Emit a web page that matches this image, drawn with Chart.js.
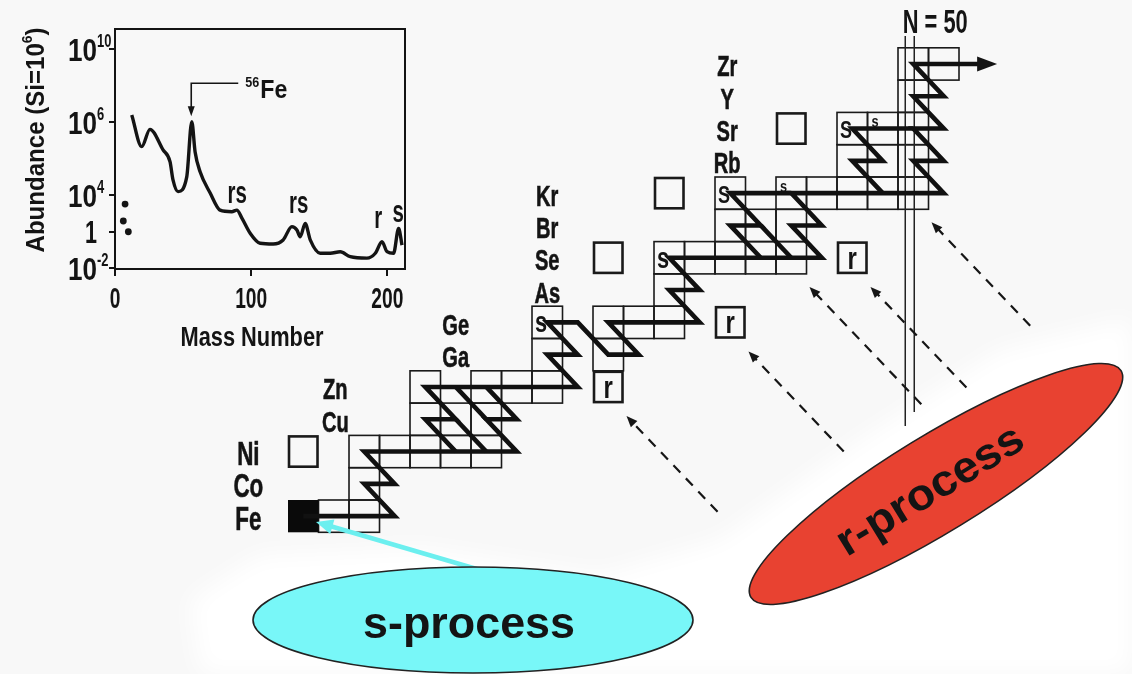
<!DOCTYPE html>
<html><head><meta charset="utf-8">
<script src="https://cdn.jsdelivr.net/npm/chart.js@4.4.1/dist/chart.umd.min.js"></script>
<style>
html,body{margin:0;padding:0;background:#f8f8f8;}
#wrap{position:relative;width:1132px;height:674px;overflow:hidden;background:#f8f8f8;}
#main{position:absolute;left:0;top:0;}
#inset{position:absolute;left:0;top:0;}
</style></head><body>
<div id="wrap"><canvas id="main" width="1132" height="674"></canvas><canvas id="inset" width="420" height="360"></canvas></div>
<script>
// ================= INSET: solar abundance curve =================
const massNumber = [12.3, 19.6, 25.7, 35.3, 40.4, 42.6, 46.3, 52.7, 56.4, 58.8, 62.5, 69.9, 77.2, 85.8, 89.5, 93.2,
  99.3, 106.6, 116.2, 123.5, 129.9, 133.6, 136, 139.7, 143.4, 150.7, 158.1, 165.4, 172.8, 185, 191.2, 196.1,
  199.8, 204.6, 208.3, 210.8];
const abundance = [2.45e6, 4.5e4, 4.0e5, 3.0e4, 6.8e3, 680, 155, 1.0e3, 1.05e6, 2.4e4, 1.9e3, 130, 15, 12.3, 15, 5.5,
  0.81, 0.23, 0.21, 0.35, 1.86, 1.23, 0.52, 2.8, 0.35, 0.065, 0.065, 0.079, 0.042, 0.035, 0.065, 0.28,
  0.079, 0.065, 1.5, 0.18];
const lightMass = [7.4, 6.1, 9.8];          // Li, Be, B dots
const lightAbund = [32, 3.8, 0.98];
const xTickValues = [0, 100, 200];
const yTickValues = [1e-2, 1, 1e2, 1e6, 1e10];
const yTickLabels = [['10','-2'], ['1',''], ['10','4'], ['10','6'], ['10','10']]; // as printed in the figure
const peakLabelText = ['rs', 'rs', 'r', 's'];
const peakLabelMass = [89.7, 134.9, 193.4, 208];
const peakLabelAbund = [36, 10.2, 1.55, 3.3];
const fePeakMass = 56, fePeakAbund = 2.1e6;

// ================= MAIN: chart of nuclides (x = N, y = Z) =================
const chainCells = [
  [31,26],[32,26],
  [32,27],
  [32,28],[33,28],[34,28],[35,28],[36,28],
  [34,29],[35,29],[36,29],
  [34,30],[36,30],[37,30],[38,30],
  [38,31],[40,31],
  [38,32],[40,32],[41,32],[42,32],
  [42,33],
  [42,34],[43,34],[44,34],[45,34],[46,34],
  [44,35],[45,35],[46,35],
  [44,36],[46,36],[47,36],[48,36],[49,36],[50,36],
  [48,37],[49,37],[50,37],
  [48,38],[49,38],[50,38],
  [50,39],
  [50,40],[51,40]
];
const seedCell = [30,26];
const pOnlyCells = [[30,28],[40,34],[42,36],[46,38]];
const rOnlyCells = [[40,30],[44,32],[48,34]];
const sOnlyCells = [[38,32,'s',1],[42,34,'s',1],[44,36,'S',1],[46,36,'s',0],[48,38,'S',1],[49,38,'s',0]];
const elementLabels = [
  ['Fe',28.2,26],['Co',28.2,27],['Ni',28.2,28],
  ['Cu',31.05,29],['Zn',31.05,30],
  ['Ga',35.0,31],['Ge',35.0,32],
  ['As',38.0,33],['Se',38.0,34],['Br',38.0,35],['Kr',38.0,36],
  ['Rb',43.9,37],['Sr',43.9,38],['Y',43.9,39],['Zr',43.9,40]
];
const sPathMain = [[30,26],[33,26],[32,27],[33,27],[32,28],[37,28],[36,29],[37,29],[36,30]];
const sPathLong = [[35,28],[34,29],[35,29],[34,30],[39,30],[38,31],[39,31],[38,32],[39,32],[40,31],[41,31],[40,32],
  [43,32],[42,33],[43,33],[42,34],[47,34],[46,35],[47,35],[46,36],[51,36],[50,37],[51,37],[50,38],[51,38],[50,39],
  [51,39],[50,40],[52.2,40]];
const branchCu64 = [[35,29],[36,28]];
const branchZn65 = [[35,30],[36,29]];
const branchSe79 = [[45,34],[44,35],[45,35],[44,36],[46,36]];
const branchBr80 = [[45,35],[46,34]];
const branchKr85 = [[49,36],[48,37],[49,37],[48,38],[50,38]];
const pathArrowTip = [52.75, 40];
const magicN = 50;
const rArrowTargets = [[40,30],[44,32],[46,34],[48,34],[50,36]];
const rArrowLengths = [132, 138, 162, 139, 143];

// view of the nuclide chart (data units covering the page)
const X_MIN = 20.057, X_MAX = 57.172, Y_MIN = 21.113, Y_MAX = 41.98;

const FONT = '"Liberation Sans", Arial, "DejaVu Sans", sans-serif';
function drawText(ctx, str, x, y, size, o = {}) {
  ctx.save();
  ctx.font = `${o.weight || 'bold'} ${size}px ${FONT}`;
  ctx.fillStyle = o.color || '#141414';
  ctx.textAlign = o.align || 'center';
  ctx.textBaseline = o.baseline || 'alphabetic';
  ctx.translate(x, y);
  if (o.rotate) ctx.rotate(o.rotate);
  const w = ctx.measureText(str).width;
  const sx = o.width ? o.width / w : (o.sx || 1);
  ctx.scale(sx, 1);
  ctx.fillText(str, 0, 0);
  if (o.heavy) { ctx.lineWidth = o.heavy; ctx.strokeStyle = ctx.fillStyle; ctx.strokeText(str, 0, 0); }
  ctx.restore();
  return w * sx;
}
function arrowHead(ctx, tx, ty, fx, fy, len, half, color) {
  const a = Math.atan2(ty - fy, tx - fx);
  ctx.save();
  ctx.fillStyle = color;
  ctx.beginPath();
  ctx.moveTo(tx, ty);
  ctx.lineTo(tx - len * Math.cos(a) + half * Math.sin(a), ty - len * Math.sin(a) - half * Math.cos(a));
  ctx.lineTo(tx - len * Math.cos(a) - half * Math.sin(a), ty - len * Math.sin(a) + half * Math.cos(a));
  ctx.closePath();
  ctx.fill();
  ctx.restore();
}

// ---------- inset decorations ----------
const insetDecor = {
  id: 'insetDecor',
  afterDraw(chart) {
    const ctx = chart.ctx, xs = chart.scales.x, ys = chart.scales.y, ca = chart.chartArea;
    ctx.save();
    ctx.strokeStyle = '#141414'; ctx.lineWidth = 2;
    ctx.strokeRect(ca.left, ca.top, ca.right - ca.left, ca.bottom - ca.top);
    ctx.restore();
    yTickValues.forEach((v, i) => {
      const y = ys.getPixelForValue(v);
      const [base, exp] = yTickLabels[i];
      const rx = ca.left - 18;
      drawText(ctx, base, rx, y + 11.5, 32, { align: 'right', width: base.length === 2 ? 29 : 12 });
      if (exp) drawText(ctx, exp, rx, y - 2, 18, { align: 'left', sx: 0.72 });
    });
    xTickValues.forEach(v => {
      drawText(ctx, String(v), xs.getPixelForValue(v), ca.bottom + 39, 30, { sx: 0.64 });
    });
    drawText(ctx, 'Mass Number', 252, 346, 28, { width: 143 });
    ctx.save();
    ctx.translate(44, 140); ctx.rotate(-Math.PI / 2);
    ctx.font = `bold 26px ${FONT}`;
    const w1 = ctx.measureText('Abundance (Si=10').width, w3 = ctx.measureText(')').width;
    ctx.font = `bold 15px ${FONT}`;
    const w2 = ctx.measureText('6').width;
    const sx = 225 / (w1 + w2 + w3);
    const x0 = -112.5;
    drawText(ctx, 'Abundance (Si=10', x0, 0, 26, { align: 'left', sx });
    drawText(ctx, '6', x0 + w1 * sx, -12, 15, { align: 'left', sx });
    drawText(ctx, ')', x0 + (w1 + w2) * sx, 0, 26, { align: 'left', sx });
    ctx.restore();
    peakLabelText.forEach((t, i) => {
      drawText(ctx, t, xs.getPixelForValue(peakLabelMass[i]), ys.getPixelForValue(peakLabelAbund[i]), 32, { sx: 0.64 });
    });
    const tx = xs.getPixelForValue(fePeakMass), ty = ys.getPixelForValue(fePeakAbund);
    ctx.save();
    ctx.strokeStyle = '#141414'; ctx.lineWidth = 1.6;
    ctx.beginPath();
    ctx.moveTo(tx + 47, ty - 33); ctx.lineTo(tx, ty - 33); ctx.lineTo(tx, ty - 9);
    ctx.stroke();
    ctx.restore();
    arrowHead(ctx, tx, ty, tx, ty - 33, 10, 3.5, '#141414');
    drawText(ctx, '56', tx + 54, ty - 29, 15, { align: 'left', width: 14 });
    drawText(ctx, 'Fe', tx + 69, ty - 18, 25, { align: 'left', width: 27 });
  }
};

new Chart(document.getElementById('inset'), {
  type: 'scatter',
  data: {
    datasets: [
      { data: massNumber.map((a, i) => ({ x: a, y: abundance[i] })), showLine: true, borderColor: '#141414',
        borderWidth: 3.4, pointRadius: 0, cubicInterpolationMode: 'monotone', fill: false },
      { data: lightMass.map((a, i) => ({ x: a, y: lightAbund[i] })), showLine: false, pointRadius: 3.4,
        backgroundColor: '#141414', borderWidth: 0 }
    ]
  },
  options: {
    responsive: false, animation: false, devicePixelRatio: 1,
    layout: { padding: { top: 29, right: 15, left: 0, bottom: 0 } },
    plugins: { legend: { display: false }, tooltip: { enabled: false } },
    scales: {
      x: {
        type: 'linear', min: 0, max: 213,
        afterBuildTicks: s => { s.ticks = xTickValues.map(v => ({ value: v })); },
        afterFit: s => { s.height = 91; },
        ticks: { display: false },
        grid: { display: true, drawOnChartArea: false, drawTicks: true, tickLength: 7, color: '#141414', lineWidth: 2 },
        border: { display: true, color: '#141414', width: 2 }
      },
      y: {
        type: 'logarithmic', min: Math.pow(10, -2.05), max: Math.pow(10, 11.1),
        afterBuildTicks: s => { s.ticks = yTickValues.map(v => ({ value: v })); },
        afterFit: s => { s.width = 115; },
        ticks: { display: false },
        grid: { display: true, drawOnChartArea: false, drawTicks: true, tickLength: 6, color: '#141414', lineWidth: 2 },
        border: { display: true, color: '#141414', width: 2 }
      }
    }
  },
  plugins: [insetDecor]
});

// ---------- main nuclide chart ----------
function cellRect(xs, ys, n, z) {
  const l = xs.getPixelForValue(n - 0.5), r = xs.getPixelForValue(n + 0.5);
  const t = ys.getPixelForValue(z + 0.5), b = ys.getPixelForValue(z - 0.5);
  return [l, t, r - l, b - t];
}
const nuclidePlugin = {
  id: 'nuclides',
  beforeDraw(chart) {
    // faint white smear behind the two process ellipses
    const ctx = chart.ctx;
    ctx.save();
    ctx.filter = 'blur(12px)';
    ctx.fillStyle = '#ffffff';
    ctx.beginPath();
    ctx.moveTo(190, 600); ctx.lineTo(260, 555); ctx.lineTo(420, 548); ctx.lineTo(600, 575); ctx.lineTo(720, 540);
    ctx.lineTo(860, 440); ctx.lineTo(1000, 350); ctx.lineTo(1132, 318); ctx.lineTo(1132, 674); ctx.lineTo(200, 674);
    ctx.closePath(); ctx.fill();
    ctx.restore();
  },
  beforeDatasetsDraw(chart) {
    const ctx = chart.ctx, xs = chart.scales.x, ys = chart.scales.y;
    ctx.save();
    ctx.strokeStyle = '#1a1a1a'; ctx.lineWidth = 1.6;
    chainCells.forEach(([n, z]) => { const r = cellRect(xs, ys, n, z); ctx.strokeRect(r[0], r[1], r[2], r[3]); });
    const s = cellRect(xs, ys, seedCell[0], seedCell[1]);
    ctx.fillStyle = '#0a0a0a'; ctx.fillRect(s[0], s[1], s[2], s[3]);
    ctx.lineWidth = 2.6;
    pOnlyCells.concat(rOnlyCells).forEach(([n, z]) => {
      const r = cellRect(xs, ys, n, z); ctx.strokeRect(r[0] + 1, r[1] + 1, r[2] - 2, r[3] - 2);
    });
    const mx = xs.getPixelForValue(magicN);
    ctx.lineWidth = 1.5; ctx.strokeStyle = '#222';
    ctx.beginPath();
    ctx.moveTo(mx - 8, 36); ctx.lineTo(mx - 8, 426);
    ctx.moveTo(mx + 1, 36); ctx.lineTo(mx + 1, 412);
    ctx.stroke();
    ctx.restore();
  },
  afterDatasetsDraw(chart) {
    const ctx = chart.ctx, xs = chart.scales.x, ys = chart.scales.y;
    elementLabels.forEach(([sym, n, z]) => {
      const big = z <= 28;
      drawText(ctx, sym, xs.getPixelForValue(n), ys.getPixelForValue(z) + (big ? 13.5 : 12.5), big ? 33 : 30,
        { sx: big ? 0.68 : 0.67, heavy: 0.6 });
    });
    sOnlyCells.forEach(([n, z, t, big]) => {
      const r = cellRect(xs, ys, n, z);
      if (big) drawText(ctx, t, r[0] + 3, r[1] + 26, t === 'S' ? 24 : 29, { align: 'left', sx: 0.75 });
      else drawText(ctx, t, r[0] + 4, r[1] + 15, 17, { align: 'left', sx: 0.75 });
    });
    rOnlyCells.forEach(([n, z]) => {
      const r = cellRect(xs, ys, n, z);
      drawText(ctx, 'r', r[0] + r[2] / 2, r[1] + 27, 32, { sx: 0.75 });
    });
    arrowHead(ctx, xs.getPixelForValue(pathArrowTip[0]), ys.getPixelForValue(pathArrowTip[1]),
      xs.getPixelForValue(50), ys.getPixelForValue(40), 20, 7.5, '#141414');
    drawText(ctx, 'N = 50', xs.getPixelForValue(magicN) + 22, 33, 34, { width: 65 });
    const ux = 0.69, uy = 0.724;
    rArrowTargets.forEach(([n, z], i) => {
      const tx = xs.getPixelForValue(n + 0.5) + 3, ty = ys.getPixelForValue(z - 0.5) + 13;
      const fx = tx + ux * rArrowLengths[i], fy = ty + uy * rArrowLengths[i];
      ctx.save();
      ctx.strokeStyle = '#161616'; ctx.lineWidth = 2.2; ctx.setLineDash([10, 8]);
      ctx.beginPath(); ctx.moveTo(fx, fy); ctx.lineTo(tx + ux * 9, ty + uy * 9); ctx.stroke();
      ctx.restore();
      arrowHead(ctx, tx, ty, fx, fy, 11, 4.5, '#161616');
    });
    ctx.save();
    ctx.strokeStyle = '#6cefef'; ctx.lineWidth = 4.5;
    ctx.beginPath(); ctx.moveTo(480, 570); ctx.lineTo(330, 526); ctx.stroke();
    ctx.restore();
    arrowHead(ctx, 316, 522, 480, 570, 17, 7.5, '#6cefef');
    ctx.save();
    ctx.beginPath(); ctx.ellipse(473, 620, 220, 53, 0, 0, Math.PI * 2);
    ctx.fillStyle = '#78f7f8'; ctx.fill();
    ctx.lineWidth = 1.6; ctx.strokeStyle = '#222'; ctx.stroke();
    ctx.restore();
    drawText(ctx, 's-process', 469, 638, 44, { width: 212 });
    const rot = -31.5 * Math.PI / 180;
    ctx.save();
    ctx.beginPath(); ctx.ellipse(936, 484, 217, 48, rot, 0, Math.PI * 2);
    ctx.fillStyle = '#e84231'; ctx.fill();
    ctx.lineWidth = 1.6; ctx.strokeStyle = '#222'; ctx.stroke();
    ctx.translate(931, 492); ctx.rotate(rot);
    drawText(ctx, 'r-process', 0, 11.5, 44, { width: 212 });
    ctx.restore();
  }
};

const pathStyle = { showLine: true, borderColor: '#111', borderWidth: 4.6, pointRadius: 0, borderJoinStyle: 'miter', fill: false };
const paths = [sPathMain, sPathLong, branchCu64, branchZn65, branchSe79, branchBr80, branchKr85];
new Chart(document.getElementById('main'), {
  type: 'scatter',
  data: { datasets: paths.map(p => Object.assign({ data: p.map(([n, z]) => ({ x: n, y: z })) }, pathStyle)) },
  options: {
    responsive: false, animation: false, devicePixelRatio: 1,
    layout: { padding: 0 },
    plugins: { legend: { display: false }, tooltip: { enabled: false } },
    scales: {
      x: { type: 'linear', min: X_MIN, max: X_MAX, display: false },
      y: { type: 'linear', min: Y_MIN, max: Y_MAX, display: false }
    }
  },
  plugins: [nuclidePlugin]
});
</script>
</body></html>
